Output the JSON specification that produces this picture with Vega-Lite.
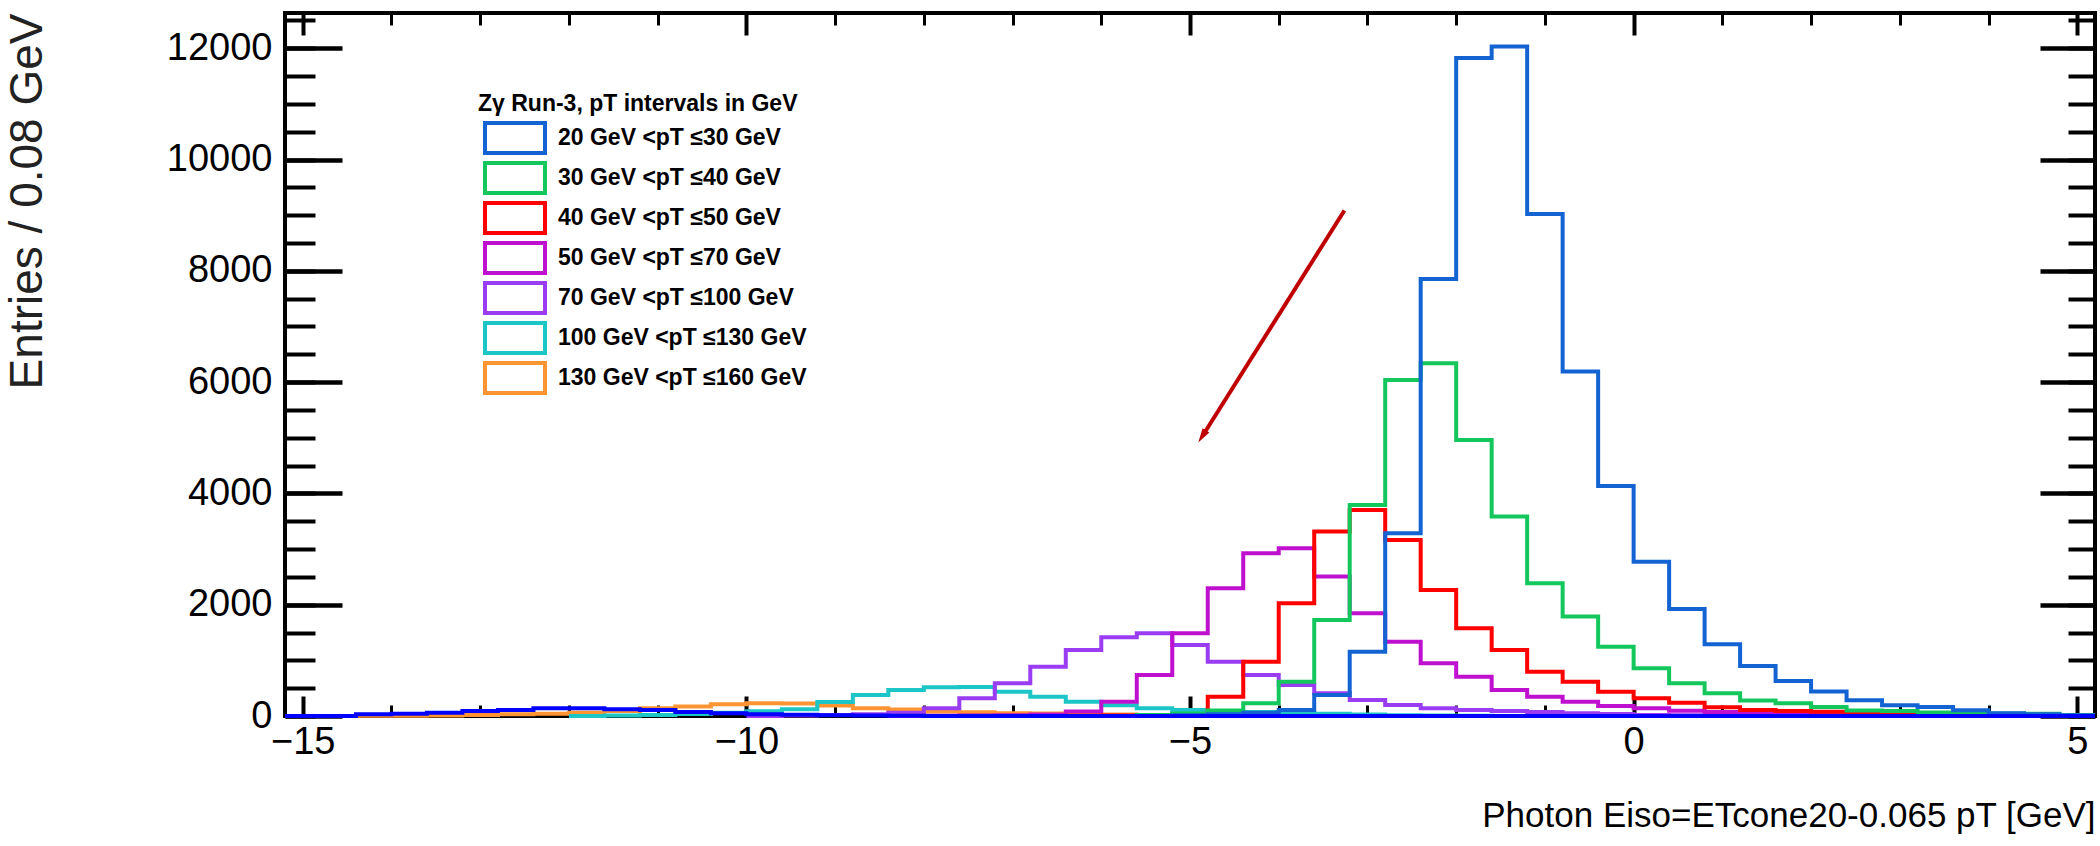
{
  "$schema": "https://vega.github.io/schema/vega-lite/v6.json",
  "width": 1810,
  "height": 703,
  "autosize": {"type": "none"},
  "padding": {"left": 285, "top": 13, "right": 5, "bottom": 130},
  "background": "white",
  "config": {
    "font": "Liberation Sans",
    "view": {"stroke": "black", "strokeWidth": 4},
    "axis": {"grid": false, "domain": false, "tickColor": "black", "labelFont": "Liberation Sans", "titleFont": "Liberation Sans", "labelColor": "black", "labelFlush": false, "labelOverlap": false}
  },
  "datasets": {
    "hist": [
      {"s":"130 GeV <pT ≤160 GeV","lo":-14.8,"hi":-14.4,"n":0},
      {"s":"130 GeV <pT ≤160 GeV","lo":-14.4,"hi":-14.0,"n":5},
      {"s":"130 GeV <pT ≤160 GeV","lo":-14.0,"hi":-13.6,"n":5},
      {"s":"130 GeV <pT ≤160 GeV","lo":-13.6,"hi":-13.2,"n":10},
      {"s":"130 GeV <pT ≤160 GeV","lo":-13.2,"hi":-12.8,"n":18},
      {"s":"130 GeV <pT ≤160 GeV","lo":-12.8,"hi":-12.4,"n":30},
      {"s":"130 GeV <pT ≤160 GeV","lo":-12.4,"hi":-12.0,"n":42},
      {"s":"130 GeV <pT ≤160 GeV","lo":-12.0,"hi":-11.6,"n":60},
      {"s":"130 GeV <pT ≤160 GeV","lo":-11.6,"hi":-11.2,"n":90},
      {"s":"130 GeV <pT ≤160 GeV","lo":-11.2,"hi":-10.8,"n":138},
      {"s":"130 GeV <pT ≤160 GeV","lo":-10.8,"hi":-10.4,"n":170},
      {"s":"130 GeV <pT ≤160 GeV","lo":-10.4,"hi":-10.0,"n":212},
      {"s":"130 GeV <pT ≤160 GeV","lo":-10.0,"hi":-9.6,"n":228},
      {"s":"130 GeV <pT ≤160 GeV","lo":-9.6,"hi":-9.2,"n":225},
      {"s":"130 GeV <pT ≤160 GeV","lo":-9.2,"hi":-8.8,"n":190},
      {"s":"130 GeV <pT ≤160 GeV","lo":-8.8,"hi":-8.4,"n":140},
      {"s":"130 GeV <pT ≤160 GeV","lo":-8.4,"hi":-8.0,"n":118},
      {"s":"130 GeV <pT ≤160 GeV","lo":-8.0,"hi":-7.6,"n":80},
      {"s":"130 GeV <pT ≤160 GeV","lo":-7.6,"hi":-7.2,"n":68},
      {"s":"130 GeV <pT ≤160 GeV","lo":-7.2,"hi":-6.8,"n":50},
      {"s":"130 GeV <pT ≤160 GeV","lo":-6.8,"hi":-6.4,"n":45},
      {"s":"130 GeV <pT ≤160 GeV","lo":-6.4,"hi":-6.0,"n":32},
      {"s":"130 GeV <pT ≤160 GeV","lo":-6.0,"hi":-5.6,"n":25},
      {"s":"130 GeV <pT ≤160 GeV","lo":-5.6,"hi":-5.2,"n":20},
      {"s":"130 GeV <pT ≤160 GeV","lo":-5.2,"hi":-4.8,"n":15},
      {"s":"130 GeV <pT ≤160 GeV","lo":-4.8,"hi":-4.4,"n":10},
      {"s":"130 GeV <pT ≤160 GeV","lo":-4.4,"hi":-4.0,"n":5},
      {"s":"130 GeV <pT ≤160 GeV","lo":-4.0,"hi":-3.6,"n":0},

      {"s":"100 GeV <pT ≤130 GeV","lo":-12.0,"hi":-11.6,"n":0},
      {"s":"100 GeV <pT ≤130 GeV","lo":-11.6,"hi":-11.2,"n":10},
      {"s":"100 GeV <pT ≤130 GeV","lo":-11.2,"hi":-10.8,"n":20},
      {"s":"100 GeV <pT ≤130 GeV","lo":-10.8,"hi":-10.4,"n":35},
      {"s":"100 GeV <pT ≤130 GeV","lo":-10.4,"hi":-10.0,"n":60},
      {"s":"100 GeV <pT ≤130 GeV","lo":-10.0,"hi":-9.6,"n":85},
      {"s":"100 GeV <pT ≤130 GeV","lo":-9.6,"hi":-9.2,"n":122},
      {"s":"100 GeV <pT ≤130 GeV","lo":-9.2,"hi":-8.8,"n":250},
      {"s":"100 GeV <pT ≤130 GeV","lo":-8.8,"hi":-8.4,"n":378},
      {"s":"100 GeV <pT ≤130 GeV","lo":-8.4,"hi":-8.0,"n":467},
      {"s":"100 GeV <pT ≤130 GeV","lo":-8.0,"hi":-7.6,"n":518},
      {"s":"100 GeV <pT ≤130 GeV","lo":-7.6,"hi":-7.2,"n":522},
      {"s":"100 GeV <pT ≤130 GeV","lo":-7.2,"hi":-6.8,"n":437},
      {"s":"100 GeV <pT ≤130 GeV","lo":-6.8,"hi":-6.4,"n":348},
      {"s":"100 GeV <pT ≤130 GeV","lo":-6.4,"hi":-6.0,"n":258},
      {"s":"100 GeV <pT ≤130 GeV","lo":-6.0,"hi":-5.6,"n":192},
      {"s":"100 GeV <pT ≤130 GeV","lo":-5.6,"hi":-5.2,"n":138},
      {"s":"100 GeV <pT ≤130 GeV","lo":-5.2,"hi":-4.8,"n":108},
      {"s":"100 GeV <pT ≤130 GeV","lo":-4.8,"hi":-4.4,"n":88},
      {"s":"100 GeV <pT ≤130 GeV","lo":-4.4,"hi":-4.0,"n":72},
      {"s":"100 GeV <pT ≤130 GeV","lo":-4.0,"hi":-3.6,"n":58},
      {"s":"100 GeV <pT ≤130 GeV","lo":-3.6,"hi":-3.2,"n":40},
      {"s":"100 GeV <pT ≤130 GeV","lo":-3.2,"hi":-2.8,"n":25},
      {"s":"100 GeV <pT ≤130 GeV","lo":-2.8,"hi":-2.4,"n":15},
      {"s":"100 GeV <pT ≤130 GeV","lo":-2.4,"hi":-2.0,"n":10},
      {"s":"100 GeV <pT ≤130 GeV","lo":-2.0,"hi":-1.6,"n":5},
      {"s":"100 GeV <pT ≤130 GeV","lo":-1.6,"hi":-1.2,"n":0},

      {"s":"70 GeV <pT ≤100 GeV","lo":-10.0,"hi":-9.6,"n":0},
      {"s":"70 GeV <pT ≤100 GeV","lo":-9.6,"hi":-9.2,"n":10},
      {"s":"70 GeV <pT ≤100 GeV","lo":-9.2,"hi":-8.8,"n":20},
      {"s":"70 GeV <pT ≤100 GeV","lo":-8.8,"hi":-8.4,"n":30},
      {"s":"70 GeV <pT ≤100 GeV","lo":-8.4,"hi":-8.0,"n":60},
      {"s":"70 GeV <pT ≤100 GeV","lo":-8.0,"hi":-7.6,"n":138},
      {"s":"70 GeV <pT ≤100 GeV","lo":-7.6,"hi":-7.2,"n":318},
      {"s":"70 GeV <pT ≤100 GeV","lo":-7.2,"hi":-6.8,"n":587},
      {"s":"70 GeV <pT ≤100 GeV","lo":-6.8,"hi":-6.4,"n":887},
      {"s":"70 GeV <pT ≤100 GeV","lo":-6.4,"hi":-6.0,"n":1186},
      {"s":"70 GeV <pT ≤100 GeV","lo":-6.0,"hi":-5.6,"n":1414},
      {"s":"70 GeV <pT ≤100 GeV","lo":-5.6,"hi":-5.2,"n":1486},
      {"s":"70 GeV <pT ≤100 GeV","lo":-5.2,"hi":-4.8,"n":1276},
      {"s":"70 GeV <pT ≤100 GeV","lo":-4.8,"hi":-4.4,"n":977},
      {"s":"70 GeV <pT ≤100 GeV","lo":-4.4,"hi":-4.0,"n":737},
      {"s":"70 GeV <pT ≤100 GeV","lo":-4.0,"hi":-3.6,"n":557},
      {"s":"70 GeV <pT ≤100 GeV","lo":-3.6,"hi":-3.2,"n":408},
      {"s":"70 GeV <pT ≤100 GeV","lo":-3.2,"hi":-2.8,"n":288},
      {"s":"70 GeV <pT ≤100 GeV","lo":-2.8,"hi":-2.4,"n":198},
      {"s":"70 GeV <pT ≤100 GeV","lo":-2.4,"hi":-2.0,"n":138},
      {"s":"70 GeV <pT ≤100 GeV","lo":-2.0,"hi":-1.6,"n":108},
      {"s":"70 GeV <pT ≤100 GeV","lo":-1.6,"hi":-1.2,"n":90},
      {"s":"70 GeV <pT ≤100 GeV","lo":-1.2,"hi":-0.8,"n":70},
      {"s":"70 GeV <pT ≤100 GeV","lo":-0.8,"hi":-0.4,"n":50},
      {"s":"70 GeV <pT ≤100 GeV","lo":-0.4,"hi":0.0,"n":35},
      {"s":"70 GeV <pT ≤100 GeV","lo":0.0,"hi":0.4,"n":20},
      {"s":"70 GeV <pT ≤100 GeV","lo":0.4,"hi":0.8,"n":12},
      {"s":"70 GeV <pT ≤100 GeV","lo":0.8,"hi":1.2,"n":8},
      {"s":"70 GeV <pT ≤100 GeV","lo":1.2,"hi":1.6,"n":5},
      {"s":"70 GeV <pT ≤100 GeV","lo":1.6,"hi":2.0,"n":0},

      {"s":"50 GeV <pT ≤70 GeV","lo":-8.4,"hi":-8.0,"n":0},
      {"s":"50 GeV <pT ≤70 GeV","lo":-8.0,"hi":-7.6,"n":5},
      {"s":"50 GeV <pT ≤70 GeV","lo":-7.6,"hi":-7.2,"n":10},
      {"s":"50 GeV <pT ≤70 GeV","lo":-7.2,"hi":-6.8,"n":15},
      {"s":"50 GeV <pT ≤70 GeV","lo":-6.8,"hi":-6.4,"n":25},
      {"s":"50 GeV <pT ≤70 GeV","lo":-6.4,"hi":-6.0,"n":80},
      {"s":"50 GeV <pT ≤70 GeV","lo":-6.0,"hi":-5.6,"n":258},
      {"s":"50 GeV <pT ≤70 GeV","lo":-5.6,"hi":-5.2,"n":737},
      {"s":"50 GeV <pT ≤70 GeV","lo":-5.2,"hi":-4.8,"n":1486},
      {"s":"50 GeV <pT ≤70 GeV","lo":-4.8,"hi":-4.4,"n":2295},
      {"s":"50 GeV <pT ≤70 GeV","lo":-4.4,"hi":-4.0,"n":2924},
      {"s":"50 GeV <pT ≤70 GeV","lo":-4.0,"hi":-3.6,"n":3014},
      {"s":"50 GeV <pT ≤70 GeV","lo":-3.6,"hi":-3.2,"n":2505},
      {"s":"50 GeV <pT ≤70 GeV","lo":-3.2,"hi":-2.8,"n":1846},
      {"s":"50 GeV <pT ≤70 GeV","lo":-2.8,"hi":-2.4,"n":1336},
      {"s":"50 GeV <pT ≤70 GeV","lo":-2.4,"hi":-2.0,"n":946},
      {"s":"50 GeV <pT ≤70 GeV","lo":-2.0,"hi":-1.6,"n":707},
      {"s":"50 GeV <pT ≤70 GeV","lo":-1.6,"hi":-1.2,"n":467},
      {"s":"50 GeV <pT ≤70 GeV","lo":-1.2,"hi":-0.8,"n":348},
      {"s":"50 GeV <pT ≤70 GeV","lo":-0.8,"hi":-0.4,"n":258},
      {"s":"50 GeV <pT ≤70 GeV","lo":-0.4,"hi":0.0,"n":180},
      {"s":"50 GeV <pT ≤70 GeV","lo":0.0,"hi":0.4,"n":138},
      {"s":"50 GeV <pT ≤70 GeV","lo":0.4,"hi":0.8,"n":96},
      {"s":"50 GeV <pT ≤70 GeV","lo":0.8,"hi":1.2,"n":70},
      {"s":"50 GeV <pT ≤70 GeV","lo":1.2,"hi":1.6,"n":50},
      {"s":"50 GeV <pT ≤70 GeV","lo":1.6,"hi":2.0,"n":35},
      {"s":"50 GeV <pT ≤70 GeV","lo":2.0,"hi":2.4,"n":25},
      {"s":"50 GeV <pT ≤70 GeV","lo":2.4,"hi":2.8,"n":15},
      {"s":"50 GeV <pT ≤70 GeV","lo":2.8,"hi":3.2,"n":10},
      {"s":"50 GeV <pT ≤70 GeV","lo":3.2,"hi":3.6,"n":8},
      {"s":"50 GeV <pT ≤70 GeV","lo":3.6,"hi":4.0,"n":5},
      {"s":"50 GeV <pT ≤70 GeV","lo":4.0,"hi":4.4,"n":0},

      {"s":"40 GeV <pT ≤50 GeV","lo":-6.8,"hi":-6.4,"n":0},
      {"s":"40 GeV <pT ≤50 GeV","lo":-6.4,"hi":-6.0,"n":5},
      {"s":"40 GeV <pT ≤50 GeV","lo":-6.0,"hi":-5.6,"n":10},
      {"s":"40 GeV <pT ≤50 GeV","lo":-5.6,"hi":-5.2,"n":15},
      {"s":"40 GeV <pT ≤50 GeV","lo":-5.2,"hi":-4.8,"n":30},
      {"s":"40 GeV <pT ≤50 GeV","lo":-4.8,"hi":-4.4,"n":348},
      {"s":"40 GeV <pT ≤50 GeV","lo":-4.4,"hi":-4.0,"n":977},
      {"s":"40 GeV <pT ≤50 GeV","lo":-4.0,"hi":-3.6,"n":2026},
      {"s":"40 GeV <pT ≤50 GeV","lo":-3.6,"hi":-3.2,"n":3314},
      {"s":"40 GeV <pT ≤50 GeV","lo":-3.2,"hi":-2.8,"n":3704},
      {"s":"40 GeV <pT ≤50 GeV","lo":-2.8,"hi":-2.4,"n":3164},
      {"s":"40 GeV <pT ≤50 GeV","lo":-2.4,"hi":-2.0,"n":2265},
      {"s":"40 GeV <pT ≤50 GeV","lo":-2.0,"hi":-1.6,"n":1576},
      {"s":"40 GeV <pT ≤50 GeV","lo":-1.6,"hi":-1.2,"n":1186},
      {"s":"40 GeV <pT ≤50 GeV","lo":-1.2,"hi":-0.8,"n":797},
      {"s":"40 GeV <pT ≤50 GeV","lo":-0.8,"hi":-0.4,"n":617},
      {"s":"40 GeV <pT ≤50 GeV","lo":-0.4,"hi":0.0,"n":437},
      {"s":"40 GeV <pT ≤50 GeV","lo":0.0,"hi":0.4,"n":318},
      {"s":"40 GeV <pT ≤50 GeV","lo":0.4,"hi":0.8,"n":240},
      {"s":"40 GeV <pT ≤50 GeV","lo":0.8,"hi":1.2,"n":156},
      {"s":"40 GeV <pT ≤50 GeV","lo":1.2,"hi":1.6,"n":108},
      {"s":"40 GeV <pT ≤50 GeV","lo":1.6,"hi":2.0,"n":90},
      {"s":"40 GeV <pT ≤50 GeV","lo":2.0,"hi":2.4,"n":75},
      {"s":"40 GeV <pT ≤50 GeV","lo":2.4,"hi":2.8,"n":65},
      {"s":"40 GeV <pT ≤50 GeV","lo":2.8,"hi":3.2,"n":55},
      {"s":"40 GeV <pT ≤50 GeV","lo":3.2,"hi":3.6,"n":50},
      {"s":"40 GeV <pT ≤50 GeV","lo":3.6,"hi":4.0,"n":45},
      {"s":"40 GeV <pT ≤50 GeV","lo":4.0,"hi":4.4,"n":0},

      {"s":"30 GeV <pT ≤40 GeV","lo":-6.0,"hi":-5.6,"n":0},
      {"s":"30 GeV <pT ≤40 GeV","lo":-5.6,"hi":-5.2,"n":20},
      {"s":"30 GeV <pT ≤40 GeV","lo":-5.2,"hi":-4.8,"n":45},
      {"s":"30 GeV <pT ≤40 GeV","lo":-4.8,"hi":-4.4,"n":100},
      {"s":"30 GeV <pT ≤40 GeV","lo":-4.4,"hi":-4.0,"n":228},
      {"s":"30 GeV <pT ≤40 GeV","lo":-4.0,"hi":-3.6,"n":617},
      {"s":"30 GeV <pT ≤40 GeV","lo":-3.6,"hi":-3.2,"n":1726},
      {"s":"30 GeV <pT ≤40 GeV","lo":-3.2,"hi":-2.8,"n":3793},
      {"s":"30 GeV <pT ≤40 GeV","lo":-2.8,"hi":-2.4,"n":6040},
      {"s":"30 GeV <pT ≤40 GeV","lo":-2.4,"hi":-2.0,"n":6340},
      {"s":"30 GeV <pT ≤40 GeV","lo":-2.0,"hi":-1.6,"n":4962},
      {"s":"30 GeV <pT ≤40 GeV","lo":-1.6,"hi":-1.2,"n":3584},
      {"s":"30 GeV <pT ≤40 GeV","lo":-1.2,"hi":-0.8,"n":2385},
      {"s":"30 GeV <pT ≤40 GeV","lo":-0.8,"hi":-0.4,"n":1786},
      {"s":"30 GeV <pT ≤40 GeV","lo":-0.4,"hi":0.0,"n":1246},
      {"s":"30 GeV <pT ≤40 GeV","lo":0.0,"hi":0.4,"n":857},
      {"s":"30 GeV <pT ≤40 GeV","lo":0.4,"hi":0.8,"n":587},
      {"s":"30 GeV <pT ≤40 GeV","lo":0.8,"hi":1.2,"n":408},
      {"s":"30 GeV <pT ≤40 GeV","lo":1.2,"hi":1.6,"n":280},
      {"s":"30 GeV <pT ≤40 GeV","lo":1.6,"hi":2.0,"n":230},
      {"s":"30 GeV <pT ≤40 GeV","lo":2.0,"hi":2.4,"n":160},
      {"s":"30 GeV <pT ≤40 GeV","lo":2.4,"hi":2.8,"n":100},
      {"s":"30 GeV <pT ≤40 GeV","lo":2.8,"hi":3.2,"n":90},
      {"s":"30 GeV <pT ≤40 GeV","lo":3.2,"hi":3.6,"n":65},
      {"s":"30 GeV <pT ≤40 GeV","lo":3.6,"hi":4.0,"n":60},
      {"s":"30 GeV <pT ≤40 GeV","lo":4.0,"hi":4.4,"n":45},
      {"s":"30 GeV <pT ≤40 GeV","lo":4.4,"hi":4.8,"n":40},
      {"s":"30 GeV <pT ≤40 GeV","lo":4.8,"hi":5.2,"n":20},

      {"s":"20 GeV <pT ≤30 GeV","lo":-5.6,"hi":-5.2,"n":0},
      {"s":"20 GeV <pT ≤30 GeV","lo":-5.2,"hi":-4.8,"n":15},
      {"s":"20 GeV <pT ≤30 GeV","lo":-4.8,"hi":-4.4,"n":30},
      {"s":"20 GeV <pT ≤30 GeV","lo":-4.4,"hi":-4.0,"n":60},
      {"s":"20 GeV <pT ≤30 GeV","lo":-4.0,"hi":-3.6,"n":110},
      {"s":"20 GeV <pT ≤30 GeV","lo":-3.6,"hi":-3.2,"n":378},
      {"s":"20 GeV <pT ≤30 GeV","lo":-3.2,"hi":-2.8,"n":1156},
      {"s":"20 GeV <pT ≤30 GeV","lo":-2.8,"hi":-2.4,"n":3284},
      {"s":"20 GeV <pT ≤30 GeV","lo":-2.4,"hi":-2.0,"n":7851},
      {"s":"20 GeV <pT ≤30 GeV","lo":-2.0,"hi":-1.6,"n":11824},
      {"s":"20 GeV <pT ≤30 GeV","lo":-1.6,"hi":-1.2,"n":12033},
      {"s":"20 GeV <pT ≤30 GeV","lo":-1.2,"hi":-0.8,"n":9019},
      {"s":"20 GeV <pT ≤30 GeV","lo":-0.8,"hi":-0.4,"n":6190},
      {"s":"20 GeV <pT ≤30 GeV","lo":-0.4,"hi":0.0,"n":4135},
      {"s":"20 GeV <pT ≤30 GeV","lo":0.0,"hi":0.4,"n":2774},
      {"s":"20 GeV <pT ≤30 GeV","lo":0.4,"hi":0.8,"n":1924},
      {"s":"20 GeV <pT ≤30 GeV","lo":0.8,"hi":1.2,"n":1288},
      {"s":"20 GeV <pT ≤30 GeV","lo":1.2,"hi":1.6,"n":900},
      {"s":"20 GeV <pT ≤30 GeV","lo":1.6,"hi":2.0,"n":630},
      {"s":"20 GeV <pT ≤30 GeV","lo":2.0,"hi":2.4,"n":440},
      {"s":"20 GeV <pT ≤30 GeV","lo":2.4,"hi":2.8,"n":282},
      {"s":"20 GeV <pT ≤30 GeV","lo":2.8,"hi":3.2,"n":192},
      {"s":"20 GeV <pT ≤30 GeV","lo":3.2,"hi":3.6,"n":162},
      {"s":"20 GeV <pT ≤30 GeV","lo":3.6,"hi":4.0,"n":102},
      {"s":"20 GeV <pT ≤30 GeV","lo":4.0,"hi":4.4,"n":50},
      {"s":"20 GeV <pT ≤30 GeV","lo":4.4,"hi":4.8,"n":30},
      {"s":"20 GeV <pT ≤30 GeV","lo":4.8,"hi":5.2,"n":15}
    ],
    "high": [
      {"lo":-15.2,"hi":-14.8,"n":0},
      {"lo":-14.8,"hi":-14.4,"n":0},
      {"lo":-14.4,"hi":-14.0,"n":30},
      {"lo":-14.0,"hi":-13.6,"n":42},
      {"lo":-13.6,"hi":-13.2,"n":60},
      {"lo":-13.2,"hi":-12.8,"n":90},
      {"lo":-12.8,"hi":-12.4,"n":108},
      {"lo":-12.4,"hi":-12.0,"n":138},
      {"lo":-12.0,"hi":-11.6,"n":138},
      {"lo":-11.6,"hi":-11.2,"n":120},
      {"lo":-11.2,"hi":-10.8,"n":108},
      {"lo":-10.8,"hi":-10.4,"n":72},
      {"lo":-10.4,"hi":-10.0,"n":48},
      {"lo":-10.0,"hi":-9.6,"n":30},
      {"lo":-9.6,"hi":-9.2,"n":22},
      {"lo":-9.2,"hi":-8.8,"n":15},
      {"lo":-8.8,"hi":-8.4,"n":10},
      {"lo":-8.4,"hi":-8.0,"n":5},
      {"lo":-8.0,"hi":-7.6,"n":0},
      {"lo":-7.6,"hi":-7.2,"n":0},
      {"lo":-7.2,"hi":-6.8,"n":0},
      {"lo":-6.8,"hi":-6.4,"n":0},
      {"lo":-6.4,"hi":-6.0,"n":0},
      {"lo":-6.0,"hi":-5.6,"n":0},
      {"lo":-5.6,"hi":-5.2,"n":0},
      {"lo":-5.2,"hi":-4.8,"n":0},
      {"lo":-4.8,"hi":-4.4,"n":0},
      {"lo":-4.4,"hi":-4.0,"n":0},
      {"lo":-4.0,"hi":-3.6,"n":0},
      {"lo":-3.6,"hi":-3.2,"n":0},
      {"lo":-3.2,"hi":-2.8,"n":0},
      {"lo":-2.8,"hi":-2.4,"n":0},
      {"lo":-2.4,"hi":-2.0,"n":0},
      {"lo":-2.0,"hi":-1.6,"n":0},
      {"lo":-1.6,"hi":-1.2,"n":0},
      {"lo":-1.2,"hi":-0.8,"n":0},
      {"lo":-0.8,"hi":-0.4,"n":0},
      {"lo":-0.4,"hi":0.0,"n":0},
      {"lo":0.0,"hi":0.4,"n":0},
      {"lo":0.4,"hi":0.8,"n":0},
      {"lo":0.8,"hi":1.2,"n":0},
      {"lo":1.2,"hi":1.6,"n":0},
      {"lo":1.6,"hi":2.0,"n":0},
      {"lo":2.0,"hi":2.4,"n":0},
      {"lo":2.4,"hi":2.8,"n":0},
      {"lo":2.8,"hi":3.2,"n":0},
      {"lo":3.2,"hi":3.6,"n":0},
      {"lo":3.6,"hi":4.0,"n":0},
      {"lo":4.0,"hi":4.4,"n":0},
      {"lo":4.4,"hi":4.8,"n":0},
      {"lo":4.8,"hi":5.2,"n":0}
    ]
  },
  "resolve": {"axis": {"x": "independent", "y": "independent"}},
  "layer": [
    {
      "data": {"name": "hist"},
      "transform": [{"fold": ["lo", "hi"], "as": ["edge", "x"]}],
      "mark": {"type": "line", "interpolate": "linear", "strokeWidth": 4, "strokeJoin": "miter", "strokeCap": "butt"},
      "encoding": {
        "x": {"field": "x", "type": "quantitative",
          "scale": {"domain": [-15.2, 5.2], "nice": false, "zero": false},
          "axis": {"orient": "bottom", "values": [-15, -10, -5, 0, 5], "format": "d", "tickSize": -20, "tickWidth": 4,
            "labelPadding": 27, "labelFontSize": 38, "labelFont": "Liberation Sans",
            "title": "Photon Eiso=ETcone20-0.065 pT [GeV]", "titleAnchor": "end", "titleFontSize": 35, "titleFontWeight": "normal",
            "titleColor": "black", "titlePadding": 37}},
        "y": {"field": "n", "type": "quantitative",
          "scale": {"domain": [0, 12633], "nice": false, "zero": false},
          "axis": {"orient": "left", "values": [0, 2000, 4000, 6000, 8000, 10000, 12000], "format": "d", "tickSize": -57, "tickWidth": 4.5,
            "labelPadding": 70, "labelFontSize": 38, "labelFont": "Liberation Sans",
            "title": "Entries / 0.08 GeV", "titleAnchor": "end", "titleFontSize": 46, "titleFontWeight": "normal",
            "titleColor": "#222222", "titlePadding": 115}},
        "color": {"field": "s", "type": "nominal",
          "scale": {
            "domain": ["20 GeV <pT ≤30 GeV", "30 GeV <pT ≤40 GeV", "40 GeV <pT ≤50 GeV", "50 GeV <pT ≤70 GeV", "70 GeV <pT ≤100 GeV", "100 GeV <pT ≤130 GeV", "130 GeV <pT ≤160 GeV"],
            "range": ["#1463d3", "#14c75c", "#ff0000", "#bf10cf", "#9a3cf2", "#1cc6c6", "#ff9433"]},
          "legend": {"orient": "none", "legendX": 193, "legendY": 80, "padding": 0,
            "title": "Zγ Run-3, pT intervals in GeV", "titleFont": "Liberation Sans", "titleFontSize": 23, "titleFontWeight": "bold",
            "titleColor": "black", "titlePadding": 5, "titleLimit": 600,
            "labelFont": "Liberation Sans", "labelFontSize": 23, "labelFontWeight": "bold", "labelColor": "black", "labelLimit": 600,
            "symbolType": "M-2,-1H2V1H-2Z", "symbolSize": 900, "symbolStrokeWidth": 4, "symbolFillColor": "transparent",
            "symbolOffset": 20, "labelOffset": 26, "rowPadding": -7.5}},
        "order": [{"field": "lo", "type": "quantitative"}, {"field": "edge", "sort": "descending"}]
      }
    },
    {
      "data": {"name": "high"},
      "transform": [{"fold": ["lo", "hi"], "as": ["edge", "x"]}],
      "mark": {"type": "line", "interpolate": "linear", "strokeWidth": 4, "strokeJoin": "miter", "color": "#0000ff"},
      "encoding": {
        "x": {"field": "x", "type": "quantitative",
          "scale": {"domain": [-15.2, 5.2], "nice": false, "zero": false},
          "axis": {"orient": "bottom", "values": [-15, -14, -13, -12, -11, -10, -9, -8, -7, -6, -5, -4, -3, -2, -1, 0, 1, 2, 3, 4, 5],
            "tickSize": -11, "tickWidth": 3, "labels": false, "title": null}},
        "y": {"field": "n", "type": "quantitative",
          "scale": {"domain": [0, 12633], "nice": false, "zero": false},
          "axis": {"orient": "left", "values": [0, 500, 1000, 1500, 2000, 2500, 3000, 3500, 4000, 4500, 5000, 5500, 6000, 6500, 7000, 7500, 8000, 8500, 9000, 9500, 10000, 10500, 11000, 11500, 12000, 12500],
            "tickSize": -30, "tickWidth": 4, "labels": false, "title": null}},
        "order": [{"field": "lo", "type": "quantitative"}, {"field": "edge", "sort": "descending"}]
      }
    },
    {
      "data": {"values": [{}]},
      "mark": {"type": "rule", "color": "#c00000", "strokeWidth": 4},
      "encoding": {
        "x": {"datum": -3.26, "type": "quantitative",
          "scale": {"domain": [-15.2, 5.2], "nice": false, "zero": false},
          "axis": {"orient": "top", "values": [-15, -10, -5, 0, 5], "tickSize": -22, "tickWidth": 4, "labels": false, "title": null}},
        "y": {"datum": 9084, "type": "quantitative",
          "scale": {"domain": [0, 12633], "nice": false, "zero": false},
          "axis": {"orient": "right", "values": [0, 2000, 4000, 6000, 8000, 10000, 12000], "tickSize": -55, "tickWidth": 4.5, "labels": false, "title": null}},
        "x2": {"datum": -4.849},
        "y2": {"datum": 5059}
      }
    },
    {
      "data": {"values": [{}]},
      "mark": {"type": "point", "shape": "M0,-1.2L0.5,0.6L-0.5,0.6Z", "size": 256, "angle": 212, "filled": true, "color": "#c00000", "opacity": 1},
      "encoding": {
        "x": {"datum": -4.849, "type": "quantitative",
          "scale": {"domain": [-15.2, 5.2], "nice": false, "zero": false},
          "axis": {"orient": "top", "values": [-15, -14, -13, -12, -11, -10, -9, -8, -7, -6, -5, -4, -3, -2, -1, 0, 1, 2, 3, 4, 5],
            "tickSize": -12, "tickWidth": 3, "labels": false, "title": null}},
        "y": {"datum": 5059, "type": "quantitative",
          "scale": {"domain": [0, 12633], "nice": false, "zero": false},
          "axis": {"orient": "right", "values": [0, 500, 1000, 1500, 2000, 2500, 3000, 3500, 4000, 4500, 5000, 5500, 6000, 6500, 7000, 7500, 8000, 8500, 9000, 9500, 10000, 10500, 11000, 11500, 12000, 12500],
            "tickSize": -27, "tickWidth": 4, "labels": false, "title": null}}
      }
    }
  ]
}
